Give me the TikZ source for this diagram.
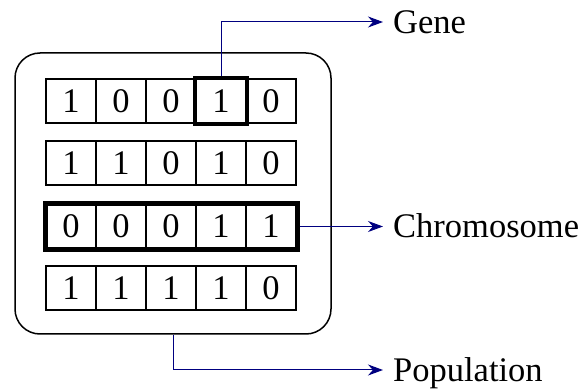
\documentclass[tikz,border=0pt]{standalone}
\usepackage{fontspec}
\setmainfont{Liberation Serif}
\usetikzlibrary{arrows.meta,fit}
\definecolor{navyblue}{RGB}{0,0,128}
\begin{document}
\begin{tikzpicture}[x=1pt,y=-1pt,
  cell/.style={draw, line width=2pt, minimum width=50pt, minimum height=44pt, inner sep=0pt,
    font=\fontsize{34.5}{38}\selectfont, text height=23pt, text depth=0pt},
  conn/.style={draw=navyblue, line width=1pt, -{Stealth[length=15pt,width=11pt]}},
  lbl/.style={anchor=west, inner xsep=10pt, inner ysep=0pt, font=\fontsize{34.5}{38}\selectfont,
    text height=23pt, text depth=0pt}]
\useasboundingbox (0,0) rectangle (582,390);
\node[draw, line width=1.5pt, rounded corners=25pt, minimum width=316pt, minimum height=281pt, inner sep=0pt] (pop) at (173,193.5) {};
\foreach \r/\yy/\bits in {1/101.5/{1,0,0,1,0},2/163.5/{1,1,0,1,0},3/226.5/{0,0,0,1,1},4/288.5/{1,1,1,1,0}}{
  \foreach \b [count=\c] in \bits {
    \node[cell] (c\r\c) at ({21+50*\c},\yy) {\b};
  }
}
\node[draw, line width=4pt, fit=(c14), inner sep=0pt] (genecell) {};
\node[draw, line width=5pt, fit=(c31)(c35), inner sep=0pt] (chrom) {};
\node[lbl] (gene) at (383,22) {Gene};
\node[lbl] (chromlbl) at (383,226.5) {Chromosome};
\node[lbl] (poplbl) at (383,370) {Population};
\draw[conn] (genecell.north) |- (gene.west);
\draw[conn] (chrom.east) -- (chromlbl.west);
\draw[conn] (pop.south) |- (poplbl.west);
\end{tikzpicture}
\end{document}
